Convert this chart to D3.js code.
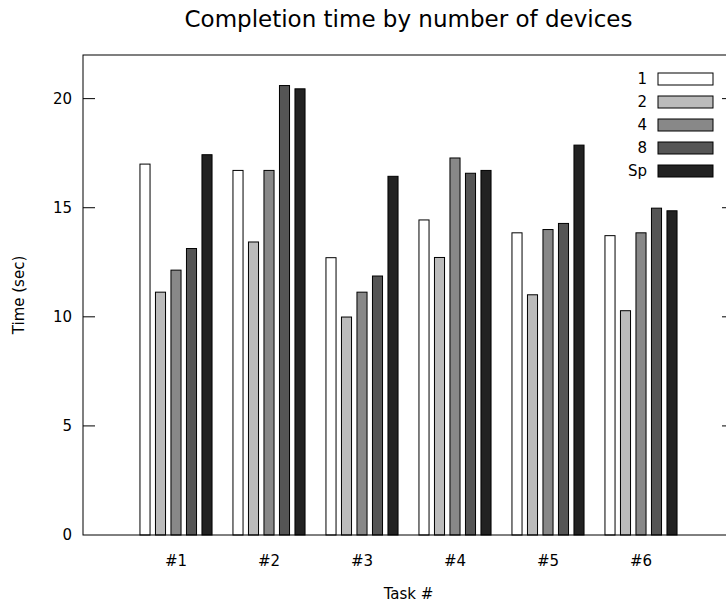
<!DOCTYPE html>
<html>
<head>
<meta charset="utf-8">
<script src="https://cdn.jsdelivr.net/npm/d3@7"></script>
<style>
  body { margin: 0; background: #fff; }
  svg { font-family: "DejaVu Sans", sans-serif; }
</style>
</head>
<body>
<div id="chart"></div>
<script>
// data
var tasks = ["#1", "#2", "#3", "#4", "#5", "#6"];
var seriesNames = ["1", "2", "4", "8", "Sp"];
var seriesColors = ["#ffffff", "#bbbbbb", "#888888", "#555555", "#222222"];
var dev1 = [17.0, 16.71, 12.71, 14.44, 13.85, 13.72];
var dev2 = [11.13, 13.43, 9.99, 12.72, 11.01, 10.28];
var dev4 = [12.14, 16.71, 11.13, 17.28, 14.0, 13.85];
var dev8 = [13.13, 20.6, 11.87, 16.58, 14.28, 14.98];
var devSp = [17.43, 20.45, 16.44, 16.71, 17.87, 14.86];
var yTicks = [0, 5, 10, 15, 20];

var series = [dev1, dev2, dev4, dev8, devSp];

var width = 726, height = 605;
var svg = d3.select("#chart").append("svg")
    .attr("width", width)
    .attr("height", height);

// plot box (right border falls just outside the window, like the original)
var plotL = 83, plotR = 734, plotT = 55, plotB = 535;

var x = d3.scaleLinear().domain([-1, 6]).range([plotL, plotR]);
var y = d3.scaleLinear().domain([0, 22]).range([plotB, plotT]);

var slot = 1 / 6;         // each group = 5 bars + 1 gap
var boxFrac = 0.65;       // box width relative to slot

// bars
series.forEach(function (vals, j) {
    svg.append("g")
        .selectAll("rect")
        .data(vals)
        .join("rect")
        .attr("x", function (d, i) { return x(i + (j - 2) * slot - slot * boxFrac / 2); })
        .attr("width", x(slot * boxFrac) - x(0))
        .attr("y", function (d) { return y(d); })
        .attr("height", function (d) { return y(0) - y(d); })
        .attr("fill", seriesColors[j])
        .attr("stroke", "#000")
        .attr("stroke-width", 1);
});

// border
svg.append("rect")
    .attr("x", plotL).attr("y", plotT)
    .attr("width", plotR - plotL).attr("height", plotB - plotT)
    .attr("fill", "none")
    .attr("stroke", "#000")
    .attr("stroke-width", 1);

// y ticks (both sides, pointing in)
var ty = svg.append("g");
yTicks.forEach(function (t) {
    if (t > 0) {
        ty.append("line").attr("x1", plotL).attr("x2", plotL + 12)
            .attr("y1", y(t)).attr("y2", y(t)).attr("stroke", "#000");
        ty.append("line").attr("x1", plotR - 12).attr("x2", plotR)
            .attr("y1", y(t)).attr("y2", y(t)).attr("stroke", "#000");
    }
    ty.append("text")
        .attr("x", plotL - 11)
        .attr("y", y(t) + 5)
        .attr("text-anchor", "end")
        .attr("font-size", 15)
        .text(t);
});

// x labels
svg.append("g")
    .selectAll("text")
    .data(tasks)
    .join("text")
    .attr("x", function (d, i) { return x(i); })
    .attr("y", plotB + 31)
    .attr("text-anchor", "middle")
    .attr("font-size", 15)
    .text(function (d) { return d; });

// title and axis labels
svg.append("text")
    .attr("x", (plotL + plotR) / 2)
    .attr("y", 27)
    .attr("text-anchor", "middle")
    .attr("font-size", 23)
    .text("Completion time by number of devices");

svg.append("text")
    .attr("x", (plotL + plotR) / 2)
    .attr("y", 599)
    .attr("text-anchor", "middle")
    .attr("font-size", 15)
    .text("Task #");

svg.append("text")
    .attr("transform", "translate(24," + ((plotT + plotB) / 2) + ") rotate(-90)")
    .attr("text-anchor", "middle")
    .attr("font-size", 15)
    .text("Time (sec)");

// legend
var legend = svg.append("g");
seriesNames.forEach(function (name, j) {
    var ry = 73 + j * 23;
    legend.append("rect")
        .attr("x", 658).attr("y", ry)
        .attr("width", 55).attr("height", 12)
        .attr("fill", seriesColors[j])
        .attr("stroke", "#000");
    legend.append("text")
        .attr("x", 647).attr("y", ry + 11)
        .attr("text-anchor", "end")
        .attr("font-size", 15)
        .text(name);
});
</script>
</body>
</html>
